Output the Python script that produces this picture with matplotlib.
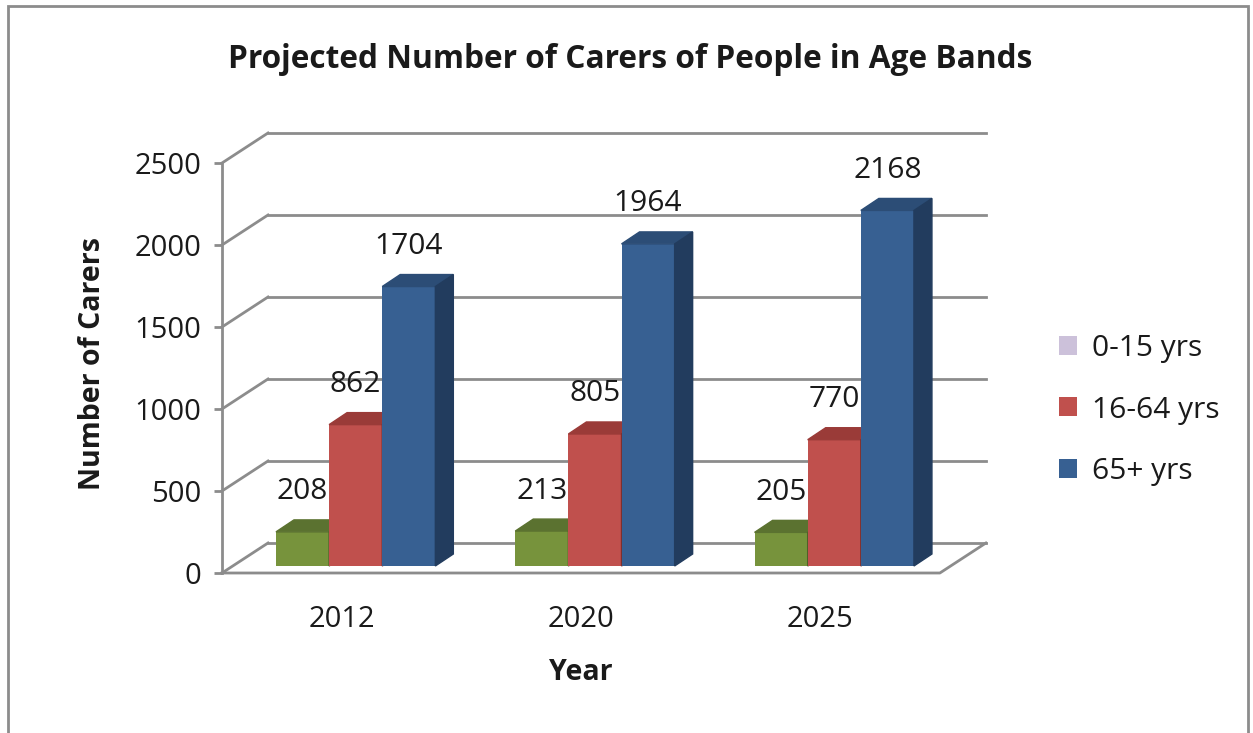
import matplotlib
matplotlib.use("Agg")
import matplotlib.pyplot as plt
from matplotlib.patches import Polygon, Rectangle, Patch

years = ["2012", "2020", "2025"]
series = ["0-15 yrs", "16-64 yrs", "65+ yrs"]
age_0_15 = [208, 213, 205]
age_16_64 = [862, 805, 770]
age_65 = [1704, 1964, 2168]

front = ["#77933C", "#C0504D", "#376092"]
tops = ["#5B7230", "#9A3B38", "#2C4D76"]
sides = ["#4E6228", "#7E2F2D", "#223C5E"]
legend_cols = ["#CCC1DA", "#C0504D", "#376092"]

plt.rcParams["font.family"] = ["Open Sans", "DejaVu Sans"]

W, H = 1253, 733
fig = plt.figure(figsize=(W / 100, H / 100), dpi=100)

# axes in pixel terms: x 222 -> 990, y 573 (value 0) -> 120
px_unit = 239.3      # px per category
py_unit = 0.164      # px per value
ax = fig.add_axes([222 / W, (H - 573) / H, 768 / W, 453 / H])
ax.set_xlim(0, 768 / px_unit)
ax.set_ylim(0, 453 / py_unit)

# depth of the box and of the bars
DX, DY = 46 / px_unit, 30 / py_unit
bdx, bdy = 14 / px_unit, 7 / py_unit
tdx, tdy = 18 / px_unit, 12 / py_unit
grid_c = "#8C8C8C"
txt_c = "#1a1a1a"

# walls / grid
for v in range(0, 2501, 500):
    ax.plot([0, DX], [v, v + DY], color=grid_c, lw=2, clip_on=False, zorder=1)
    ax.plot([DX, 3 + DX], [v + DY, v + DY], color=grid_c, lw=2, clip_on=False, zorder=1)
ax.plot([0, 3, 3 + DX], [0, 0, DY], color=grid_c, lw=2, clip_on=False, zorder=1)

# bars
w = 0.222
vals = [age_0_15, age_16_64, age_65]
for j, data in enumerate(vals):
    for i, v in enumerate(data):
        xl = i + 0.5 + (j - 1.5) * w + bdx
        xr = xl + w
        top = bdy + v
        z = 3 + j
        ax.bar(xl, v, width=w, bottom=bdy, align="edge", color=front[j], zorder=z)
        ax.add_patch(Polygon([(xl, top), (xr, top), (xr + tdx, top + tdy), (xl + tdx, top + tdy)],
                             closed=True, color=tops[j], zorder=z))
        ax.add_patch(Polygon([(xr, bdy), (xr, top), (xr + tdx, top + tdy), (xr + tdx, bdy + tdy)],
                             closed=True, color=sides[j], zorder=z))
        ax.annotate(str(v), (xl + w / 2, top), xytext=(0, 40), textcoords="offset pixels",
                    ha="center", va="center", fontsize=21.5, color=txt_c, zorder=10)

# axes styling
for s in ["top", "right", "bottom"]:
    ax.spines[s].set_visible(False)
ax.spines["left"].set_bounds(0, 2500)
ax.spines["left"].set_color(grid_c)
ax.spines["left"].set_linewidth(2)
ax.set_yticks(range(0, 2501, 500))
ax.tick_params(axis="y", direction="out", length=6, width=2, color=grid_c,
               labelsize=21, pad=9, labelcolor=txt_c)
ax.set_xticks([0.5, 1.5, 2.5])
ax.set_xticklabels(years)
ax.tick_params(axis="x", length=0, labelsize=21, pad=23, labelcolor=txt_c)
ax.set_facecolor("none")

fig.text(630 / W, 1 - 59 / H, "Projected Number of Carers of People in Age Bands",
         ha="center", va="center", fontsize=22.8, fontweight="bold", color=txt_c)
fig.text(92 / W, 1 - 364 / H, "Number of Carers", ha="center", va="center",
         rotation=90, fontsize=20.5, fontweight="bold", color=txt_c)
fig.text(581 / W, 1 - 672 / H, "Year", ha="center", va="center", fontsize=20.5,
         fontweight="bold", color=txt_c)

handles = [Patch(facecolor=c, edgecolor="none") for c in legend_cols]
fig.legend(handles, series, loc="center left", bbox_to_anchor=(1032 / W, 1 - 410 / H),
           frameon=False, fontsize=21.5, handlelength=0.6, handleheight=0.6,
           handletextpad=0.5, labelspacing=1.08, labelcolor=txt_c)

# outer border
fig.patches.append(Rectangle((8 / W, -0.05), 1240 / W, 1.05 - 6 / H, transform=fig.transFigure,
                             fill=False, edgecolor="#8C8C8C", lw=2))

fig.savefig("out.png", dpi=100)
